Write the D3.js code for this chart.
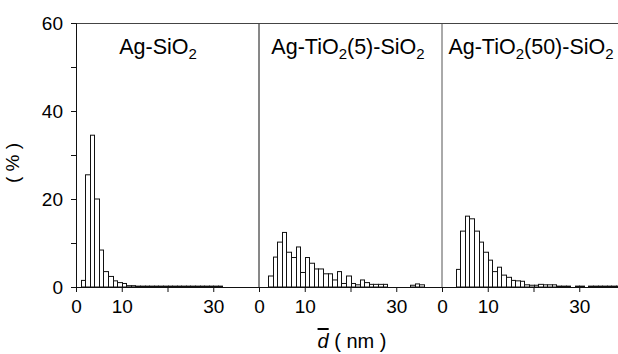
<!DOCTYPE html>
<html><head><meta charset="utf-8">
<script src="https://cdn.jsdelivr.net/npm/d3@7"></script>
<style>
html,body{margin:0;padding:0;background:#fff;}
svg{display:block;}
text{font-family:"Liberation Sans",Arial,Helvetica,sans-serif;fill:#000;}
</style></head>
<body>
<svg id="chart" width="618" height="354"></svg>
<script>
// Data: percentage per 1-nm bin (bin i covers i..i+1 nm)
const panelNames = ["Ag-SiO2", "Ag-TiO2(5)-SiO2", "Ag-TiO2(50)-SiO2"];
const agSiO2 = [0,1.5,25.5,34.5,20,8.4,3.5,2.4,1.4,1.0,0.8,0.3,0.3,0.2,0.2,0.2,0.2,0.2,0.2,0.2,0.2,0.2,0.2,0.2,0.2,0.2,0.2,0.2,0.2,0.2,0.2,0.2,0,0,0,0,0,0,0,0];
const agTiO2_5 = [0,0,2.5,6.8,10.2,12.4,7.9,6.7,9.1,3.3,6.7,5.4,4.1,4.1,3.0,3.0,1.6,3.5,0.8,2.5,0.8,0.5,1.6,1.0,0.6,0.6,0.6,0.6,0,0,0,0,0,0.4,0.7,0.5,0,0,0,0];
const agTiO2_50 = [0,0,0,4.0,12.7,16.1,15.5,12.7,10.2,7.9,6.1,3.5,4.5,2.7,2.2,1.5,1.4,1.3,0.5,0.4,0.4,0.6,0.5,0.5,0.5,0.2,0.2,0.2,0,0.2,0.2,0,0.2,0.2,0.2,0.2,0.2,0.2,0.2,0];
const xTicks = [0,10,20,30];
const xTickLabels = [0,10,30];
const yTicks = [0,10,20,30,40,50,60];
const yTickLabels = [0,20,40,60];

const series = [agSiO2, agTiO2_5, agTiO2_50];
const titleParts = [
  [["Ag-SiO",0],["2",1]],
  [["Ag-TiO",0],["2",1],["(5)-SiO",0],["2",1]],
  [["Ag-TiO",0],["2",1],["(50)-SiO",0],["2",1]]
];
const titleX = [158, 348, 531];

const svg = d3.select("#chart");
svg.append("rect").attr("width",618).attr("height",354).attr("fill","#fff");

const plotLeft = 76, plotTop = 23, plotBottom = 287, panelW = 183;
const y = d3.scaleLinear().domain([0,60]).range([plotBottom, plotTop]);

// Bars
series.forEach((vals, p) => {
  const x0 = plotLeft + p*panelW;
  const x = d3.scaleLinear().domain([0,40]).range([x0, x0+panelW]);
  const g = svg.append("g");
  g.selectAll("rect").data(vals.map((v,i)=>({v,i})).filter(d=>d.v>0))
    .join("rect")
    .attr("x", d => Math.round(x(d.i))+0.5)
    .attr("width", d => Math.max(1, Math.round(x(d.i+1)) - Math.round(x(d.i))))
    .attr("y", d => y(d.v))
    .attr("height", d => plotBottom - y(d.v))
    .attr("fill","#fff").attr("stroke","#111").attr("stroke-width",1);

  // x axis
  const ax = svg.append("g").attr("transform",`translate(0,${plotBottom})`)
    .call(d3.axisBottom(x).tickValues(xTicks).tickSize(5).tickPadding(8)
      .tickFormat(d => xTickLabels.includes(d) ? d : ""));
  ax.select(".domain").remove();
  ax.selectAll("line").attr("stroke","#111");
  ax.selectAll("text").style("font-size","19px").attr("fill","#000");

  // title
  const t = svg.append("text").attr("x", titleX[p]).attr("y", 54)
    .attr("text-anchor","middle").style("font-size","21.5px");
  titleParts[p].forEach(([s,sub], k) => {
    const ts = t.append("tspan").text(s);
    if (sub) ts.style("font-size","15px").attr("dy",5);
    else if (k>0) ts.attr("dy",-5);
  });

  // divider on right side for panels 1 and 2
  if (p < 2) {
    svg.append("line").attr("x1", x(40)).attr("x2", x(40))
      .attr("y1", plotTop).attr("y2", plotBottom)
      .attr("stroke", p===0 ? "#111" : "#555").attr("stroke-width",1);
  }
});

// baseline
svg.append("line").attr("x1",plotLeft).attr("x2",618).attr("y1",plotBottom+0.5).attr("y2",plotBottom+0.5)
  .attr("stroke","#111").attr("stroke-width",1.2);
// top frame
svg.append("line").attr("x1",plotLeft).attr("x2",618).attr("y1",plotTop+0.5).attr("y2",plotTop+0.5)
  .attr("stroke","#444").attr("stroke-width",1);

// y axis
const ay = svg.append("g").attr("transform",`translate(${plotLeft},0)`)
  .call(d3.axisLeft(y).tickValues(yTicks).tickSize(5).tickPadding(8)
    .tickFormat(d => yTickLabels.includes(d) ? d : ""));
ay.select(".domain").attr("stroke","#111");
ay.selectAll("line").attr("stroke","#111");
ay.selectAll("text").style("font-size","19px").attr("fill","#000");

// y title
svg.append("text").attr("transform","translate(19,163) rotate(-90)")
  .attr("text-anchor","middle").style("font-size","19px").text("( % )");

// x title: d with overbar
const xt = svg.append("text").attr("x",352).attr("y",348).attr("text-anchor","middle").style("font-size","20px");
xt.append("tspan").style("font-style","italic").style("text-decoration","overline").text("d");
xt.append("tspan").text(" ( nm )");
</script>
</body></html>
